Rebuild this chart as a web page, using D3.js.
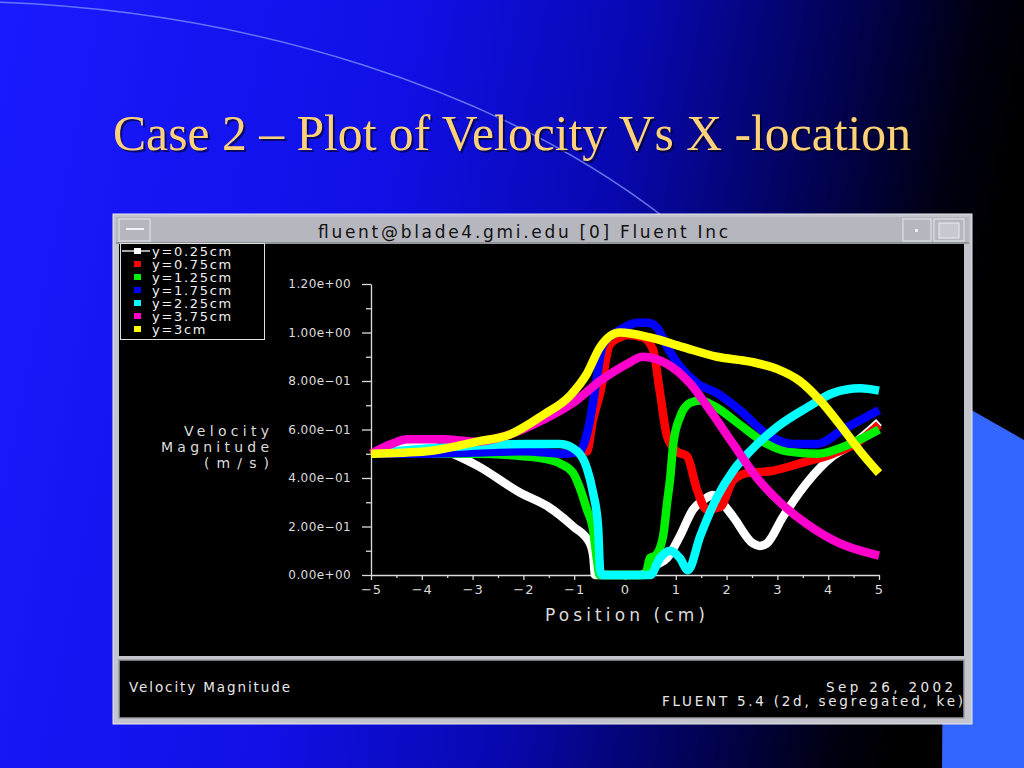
<!DOCTYPE html>
<html>
<head>
<meta charset="utf-8">
<script src="https://cdn.jsdelivr.net/npm/d3@7"></script>
<style>
  html, body { margin: 0; padding: 0; background: #000; }
  svg { display: block; }
</style>
</head>
<body>
<div id="slide"></div>
<script>
/*
------------------------------
DATA
------------------------------
*/
let seriesNames = ["y=0.25cm", "y=0.75cm", "y=1.25cm", "y=1.75cm", "y=2.25cm", "y=3.75cm", "y=3cm"];
let seriesColors = ["#ffffff", "#ff0000", "#00ee00", "#0000ff", "#00ffff", "#ff00cc", "#ffff00"];

let x025 = [-5, -4.6, -4.23, -3.8, -3.39, -2.9, -2.07, -1.5, -1.02, -0.69, -0.62, -0.59, 0.3, 0.6, 0.83, 1.08, 1.34, 1.55, 1.73, 1.9, 2.13, 2.52, 2.65, 2.79, 3.11, 3.58, 4.09, 4.49, 5];
let y025 = [0.50, 0.52, 0.54, 0.53, 0.50, 0.45, 0.34, 0.28, 0.20, 0.13, 0.07, 0.0, 0.0, 0.04, 0.07, 0.16, 0.27, 0.31, 0.33, 0.30, 0.24, 0.13, 0.12, 0.13, 0.24, 0.38, 0.49, 0.54, 0.63];

let x075 = [-5, -4, -3, -2, -1.2, -0.9, -0.75, -0.63, -0.49, -0.30, -0.1, 0.04, 0.35, 0.55, 0.69, 0.83, 1.02, 1.22, 1.42, 1.61, 1.87, 2.13, 2.40, 2.91, 3.44, 4.09, 4.6, 5];
let y075 = [0.50, 0.50, 0.50, 0.50, 0.50, 0.51, 0.51, 0.64, 0.75, 0.95, 0.98, 0.99, 0.98, 0.93, 0.75, 0.57, 0.51, 0.49, 0.35, 0.27, 0.28, 0.39, 0.42, 0.43, 0.46, 0.50, 0.55, 0.62];

let x125 = [-5, -4, -3, -2, -1.6, -1.28, -1.02, -0.89, -0.75, -0.63, -0.55, -0.5, 0.4, 0.49, 0.6, 0.75, 0.83, 0.89, 0.95, 1.08, 1.28, 1.48, 1.81, 2.26, 2.80, 3.19, 3.78, 4.43, 5];
let y125 = [0.50, 0.50, 0.50, 0.49, 0.48, 0.46, 0.42, 0.36, 0.27, 0.19, 0.06, 0.0, 0.0, 0.07, 0.08, 0.16, 0.30, 0.40, 0.54, 0.65, 0.71, 0.72, 0.69, 0.62, 0.54, 0.51, 0.50, 0.54, 0.60];

let x175 = [-5, -4, -3, -2, -1.14, -0.89, -0.75, -0.63, -0.55, -0.43, -0.10, 0.24, 0.45, 0.63, 0.83, 1.08, 1.42, 1.81, 2.26, 2.80, 3.31, 3.78, 4.29, 5];
let y175 = [0.50, 0.50, 0.505, 0.51, 0.50, 0.51, 0.58, 0.71, 0.82, 0.95, 1.01, 1.04, 1.04, 1.02, 0.94, 0.86, 0.79, 0.75, 0.68, 0.58, 0.54, 0.54, 0.60, 0.68];

let x225 = [-5, -4, -3.25, -1.93, -1.28, -0.94, -0.75, -0.63, -0.53, -0.49, -0.45, 0.5, 0.69, 0.89, 1.08, 1.24, 1.48, 1.81, 2.13, 2.46, 2.99, 3.58, 4.09, 4.63, 5];
let y225 = [0.50, 0.52, 0.53, 0.54, 0.54, 0.51, 0.44, 0.34, 0.20, 0.02, 0.0, 0.0, 0.07, 0.10, 0.07, 0.02, 0.16, 0.32, 0.43, 0.51, 0.61, 0.69, 0.75, 0.77, 0.76];

let x375 = [-5, -4.6, -4.29, -3.58, -2.91, -2.26, -1.61, -1.02, -0.49, 0.04, 0.35, 0.83, 1.28, 1.67, 2.13, 2.60, 3.05, 3.58, 4.23, 5];
let y375 = [0.50, 0.54, 0.56, 0.56, 0.55, 0.58, 0.64, 0.71, 0.80, 0.87, 0.90, 0.87, 0.79, 0.68, 0.54, 0.40, 0.30, 0.21, 0.13, 0.08];

let x300 = [-5, -3.90, -2.91, -2.26, -1.61, -1.08, -0.75, -0.49, -0.10, 0.49, 1.14, 1.81, 2.46, 2.99, 3.44, 3.84, 4.23, 4.63, 5];
let y300 = [0.50, 0.51, 0.55, 0.58, 0.66, 0.74, 0.83, 0.94, 1.00, 0.98, 0.94, 0.90, 0.88, 0.85, 0.80, 0.72, 0.62, 0.51, 0.42];

let seriesX = [x025, x075, x125, x175, x225, x375, x300];
let seriesY = [y025, y075, y125, y175, y225, y375, y300];

let positionTicks = [-5, -4, -3, -2, -1, 0, 1, 2, 3, 4, 5];
let positionMinor = [-4.5, -3.5, -2.5, -1.5, -0.5, 0.5, 1.5, 2.5, 3.5, 4.5];
let velocityTicks = [0, 0.2, 0.4, 0.6, 0.8, 1.0, 1.2];
let velocityMinor = [0.1, 0.3, 0.5, 0.7, 0.9, 1.1];

/*
------------------------------
METHOD: set the size of the canvas
------------------------------
*/
let width = 1024;
let height = 768;
let plot = ({left: 371, right: 879, top: 284, bottom: 575});
let fontFam = "'DejaVu Sans', Verdana, sans-serif";

let svg = d3.select("#slide")
    .append("svg")
    .attr("width", width)
    .attr("height", height);

let defs = svg.append("defs");
let bg = defs.append("linearGradient")
    .attr("id", "bg")
    .attr("x1", "0").attr("y1", "0").attr("x2", "1").attr("y2", "0.15");
[["0%", "#1a1aff"], ["40%", "#1010e6"], ["62%", "#0808b0"], ["82%", "#020250"], ["94%", "#000010"], ["100%", "#000000"]]
    .forEach(function (s) { bg.append("stop").attr("offset", s[0]).attr("stop-color", s[1]); });

/*
------------------------------
METHOD: slide background and title
------------------------------
*/
svg.append("rect").attr("width", width).attr("height", height).attr("fill", "url(#bg)");

svg.append("path")
    .attr("d", "M-10,2 C250,10 500,90 665,218")
    .attr("fill", "none")
    .attr("stroke", "#7f95ff")
    .attr("stroke-opacity", 0.75)
    .attr("stroke-width", 1.5);

svg.append("polygon")
    .attr("points", "945,395 1024,440 1024,768 942,768")
    .attr("fill", "#3366ff");

let title = "Case 2 \u2013 Plot of  Velocity Vs X -location";
svg.append("text")
    .attr("x", 115).attr("y", 152)
    .attr("font-family", "'Liberation Serif', 'Times New Roman', serif")
    .attr("font-size", 51)
    .attr("fill", "#000")
    .attr("opacity", 0.55)
    .attr("textLength", 798)
    .attr("lengthAdjust", "spacingAndGlyphs")
    .text(title);

svg.append("text")
    .attr("x", 113).attr("y", 150)
    .attr("font-family", "'Liberation Serif', 'Times New Roman', serif")
    .attr("font-size", 51)
    .attr("fill", "#ffd27a")
    .attr("textLength", 798)
    .attr("lengthAdjust", "spacingAndGlyphs")
    .text(title);

/*
------------------------------
METHOD: the Fluent window frame
------------------------------
*/
let win = svg.append("g");
win.append("rect").attr("x", 113).attr("y", 214).attr("width", 859).attr("height", 510)
    .attr("fill", "#c4c4cc").attr("stroke", "#e8e8f0").attr("stroke-width", 1);
win.append("rect").attr("x", 116).attr("y", 217).attr("width", 853).attr("height", 26)
    .attr("fill", "#b6b6be");
win.append("line").attr("x1", 116).attr("x2", 969).attr("y1", 243).attr("y2", 243).attr("stroke", "#6a6a70");
// left menu button
win.append("rect").attr("x", 119).attr("y", 219).attr("width", 31).attr("height", 22)
    .attr("fill", "#b6b6be").attr("stroke", "#e6e6ee");
win.append("line").attr("x1", 126).attr("x2", 144).attr("y1", 229).attr("y2", 229).attr("stroke", "#f2f2f6").attr("stroke-width", 2);
// right buttons
win.append("rect").attr("x", 903).attr("y", 219).attr("width", 28).attr("height", 22)
    .attr("fill", "#b6b6be").attr("stroke", "#e6e6ee");
win.append("rect").attr("x", 915).attr("y", 229).attr("width", 3).attr("height", 3).attr("fill", "#eee");
win.append("rect").attr("x", 934).attr("y", 219).attr("width", 30).attr("height", 22)
    .attr("fill", "#b6b6be").attr("stroke", "#e6e6ee");
win.append("rect").attr("x", 939).attr("y", 223).attr("width", 20).attr("height", 15)
    .attr("fill", "#c8c8d0").attr("stroke", "#eaeaf0");
win.append("text")
    .attr("x", 318).attr("y", 238)
    .attr("font-family", fontFam).attr("font-size", 17)
    .attr("fill", "#111")
    .attr("textLength", 410).attr("lengthAdjust", "spacing")
    .text("fluent@blade4.gmi.edu [0] Fluent Inc");

// black graphics area
win.append("rect").attr("x", 119).attr("y", 244).attr("width", 845).attr("height", 412).attr("fill", "#000");
// bottom caption panel
win.append("rect").attr("x", 119).attr("y", 660).attr("width", 845).attr("height", 58)
    .attr("fill", "#000").attr("stroke", "#9a9aa2").attr("stroke-width", 1.5);

win.append("text").attr("x", 129).attr("y", 692)
    .attr("font-family", fontFam).attr("font-size", 13.5).attr("fill", "#e8e8e8")
    .attr("textLength", 161).attr("lengthAdjust", "spacing")
    .text("Velocity  Magnitude");
win.append("text").attr("x", 826).attr("y", 692)
    .attr("font-family", fontFam).attr("font-size", 13.5).attr("fill", "#e8e8e8")
    .attr("textLength", 127).attr("lengthAdjust", "spacing")
    .text("Sep  26,  2002");
win.append("text").attr("x", 662).attr("y", 706)
    .attr("font-family", fontFam).attr("font-size", 13.5).attr("fill", "#e8e8e8")
    .attr("textLength", 301).attr("lengthAdjust", "spacing")
    .text("FLUENT  5.4  (2d,  segregated,  ke)");

/*
------------------------------
METHOD: scales and axes
------------------------------
*/
let xScale = d3.scaleLinear().domain([-5, 5]).range([plot.left, plot.right]);
let yScale = d3.scaleLinear().domain([0, 1.2]).range([plot.bottom, plot.top]);

function sciFormat(v) {
    if (v === 0) return "0.00e+00";
    let e = Math.floor(Math.log10(v) + 1e-9);
    let m = v / Math.pow(10, e);
    let sign = e < 0 ? "\u2212" : "+";
    return m.toFixed(2) + "e" + sign + String(Math.abs(e)).padStart(2, "0");
}

let axisColor = "#dcdcdc";

let yAxis = svg.append("g")
    .attr("transform", "translate(" + plot.left + ",0)")
    .call(d3.axisLeft(yScale).tickValues(velocityTicks).tickFormat(sciFormat).tickSize(9).tickPadding(11).tickSizeOuter(0));
svg.append("g")
    .attr("transform", "translate(" + plot.left + ",0)")
    .call(d3.axisLeft(yScale).tickValues(velocityMinor).tickFormat("").tickSize(5).tickSizeOuter(0))
    .select(".domain").remove();

let xAxis = svg.append("g")
    .attr("transform", "translate(0," + plot.bottom + ")")
    .call(d3.axisBottom(xScale).tickValues(positionTicks).tickFormat(d3.format("d")).tickSize(5).tickPadding(5).tickSizeOuter(0));
svg.append("g")
    .attr("transform", "translate(0," + plot.bottom + ")")
    .call(d3.axisBottom(xScale).tickValues(positionMinor).tickFormat("").tickSize(3).tickSizeOuter(0))
    .select(".domain").remove();

svg.selectAll(".domain, .tick line").attr("stroke", axisColor).attr("stroke-width", 1.3);
yAxis.selectAll("text").attr("fill", axisColor).attr("font-family", fontFam).attr("font-size", 12)
    .attr("letter-spacing", 0.4);
xAxis.selectAll("text").attr("fill", axisColor).attr("font-family", fontFam).attr("font-size", 13)
    .attr("letter-spacing", 1);

svg.append("text")
    .attr("x", 545).attr("y", 621)
    .attr("font-family", fontFam).attr("font-size", 17).attr("fill", axisColor)
    .attr("textLength", 160).attr("lengthAdjust", "spacing")
    .text("Position  (cm)");

let yLabel = [["Velocity", 436, 85], ["Magnitude", 451.5, 108], ["(m/s)", 468, 65]];
yLabel.forEach(function (l) {
    svg.append("text")
        .attr("x", 269 - l[2]).attr("y", l[1])
        .attr("font-family", fontFam).attr("font-size", 14).attr("fill", axisColor)
        .attr("textLength", l[2]).attr("lengthAdjust", "spacing")
        .text(l[0]);
});

/*
------------------------------
METHOD: draw the velocity curves
------------------------------
*/
let line = d3.line()
    .x(function (d) { return xScale(d[0]); })
    .y(function (d) { return yScale(d[1]); })
    .curve(d3.curveMonotoneX);

let curves = svg.append("g");
seriesNames.forEach(function (name, i) {
    let pts = seriesX[i].map(function (x, j) { return [x, seriesY[i][j]]; });
    curves.append("path")
        .datum(pts)
        .attr("class", "series")
        .attr("fill", "none")
        .attr("stroke", seriesColors[i])
        .attr("stroke-width", 8.5)
        .attr("stroke-linejoin", "round")
        .attr("d", line);
});

/*
------------------------------
METHOD: legend box
------------------------------
*/
let legend = svg.append("g");
legend.append("rect").attr("x", 120.5).attr("y", 243.5).attr("width", 144).attr("height", 96)
    .attr("fill", "#000").attr("stroke", "#e0e0e0").attr("stroke-width", 1);
legend.append("line").attr("x1", 122).attr("x2", 150).attr("y1", 251).attr("y2", 251)
    .attr("stroke", "#fff").attr("stroke-width", 1.3);
seriesNames.forEach(function (name, i) {
    let cy = 251 + i * 13;
    legend.append("rect").attr("x", 134).attr("y", cy - 3).attr("width", 7).attr("height", 6)
        .attr("fill", seriesColors[i]);
    legend.append("text")
        .attr("x", 152).attr("y", cy + 5)
        .attr("font-family", fontFam).attr("font-size", 13).attr("fill", "#f0f0f0")
        .attr("letter-spacing", 1.7)
        .text(name);
});
</script>
</body>
</html>
